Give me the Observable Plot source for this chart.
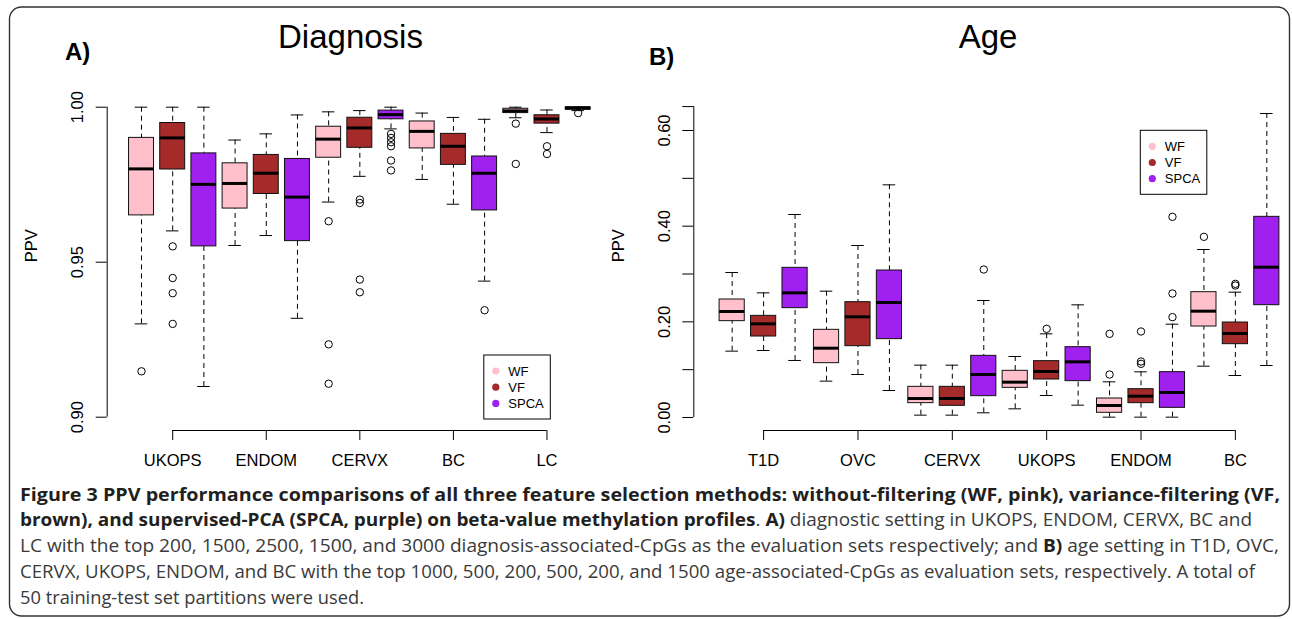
<!DOCTYPE html>
<html><head><meta charset="utf-8">
<script src="https://cdn.jsdelivr.net/npm/d3@7"></script>
<script src="https://cdn.jsdelivr.net/npm/@observablehq/plot@0.6"></script>
<style>
body{margin:0;background:#fff;overflow:hidden}
#wrap{position:relative;width:1292px;height:619px;}
.panel{position:absolute;top:0;}
#overlay{position:absolute;left:0;top:0;pointer-events:none}
</style></head><body>
<div id="wrap"><div id="pa" class="panel" style="left:0;width:600px"></div><div id="pb" class="panel" style="left:600px;width:692px"></div></div>
<script>
// ---------- data ----------
const methods = ["WF", "VF", "SPCA"];
const methodColors = ["pink", "brown", "#A020F0"];

// Panel A: Diagnosis (boxes ordered category x method)
const diagCategories = ["UKOPS", "ENDOM", "CERVX", "BC", "LC"];
const diagTicks = [2, 5, 8, 11, 14];
const diagWhiskerHigh = [1.000, 1.000, 1.000, 0.9894, 0.9914, 0.9975, 0.9985, 0.9989, 1.000, 0.9981, 0.9967, 0.9961, 1.000, 0.9991, 1.000];
const diagQ3 =          [0.9901, 0.9949, 0.9851, 0.9819, 0.9846, 0.9833, 0.9937, 0.9966, 0.9989, 0.9954, 0.9914, 0.9841, 0.9995, 0.9974, 1.000];
const diagMedian =      [0.9801, 0.9901, 0.9751, 0.9754, 0.9787, 0.9710, 0.9897, 0.9933, 0.9976, 0.9922, 0.9874, 0.9787, 0.9988, 0.9962, 0.9997];
const diagQ1 =          [0.9651, 0.9799, 0.9551, 0.9673, 0.9720, 0.9568, 0.9837, 0.9869, 0.9961, 0.9867, 0.9814, 0.9667, 0.9981, 0.9947, 0.9992];
const diagWhiskerLow =  [0.9301, 0.9601, 0.9099, 0.9554, 0.9586, 0.9319, 0.9694, 0.9777, 0.9930, 0.9767, 0.9687, 0.9439, 0.9966, 0.9918, 0.9989];
const diagOutlierBox =   [0, 1, 1, 1, 1, 6, 6, 6, 7, 7, 7, 7, 8, 8, 8, 8, 8, 8, 11, 12, 12, 13, 13, 14];
const diagOutlierValue = [0.9148, 0.9551, 0.9449, 0.9400, 0.9301, 0.9632, 0.9235, 0.9108, 0.9702, 0.9691, 0.9444, 0.9403,
                          0.9914, 0.9901, 0.9887, 0.9874, 0.9828, 0.9796, 0.9345, 0.9947, 0.9817, 0.9874, 0.9849, 0.9981];
const diagYTicks = [0.90, 0.95, 1.00];
const diagYTickLabels = ["0.90", "0.95", "1.00"];

// Panel B: Age
const ageCategories = ["T1D", "OVC", "CERVX", "UKOPS", "ENDOM", "BC"];
const ageTicks = [2, 5, 8, 11, 14, 17];
const ageWhiskerHigh = [0.3031, 0.2606, 0.4244, 0.2641, 0.3596, 0.4864, 0.1094, 0.1094, 0.2446, 0.1275, 0.1749, 0.2355, 0.0746, 0.0955, 0.1951, 0.3512, 0.2620, 0.6355];
const ageQ3 =          [0.2467, 0.2125, 0.3129, 0.1833, 0.2411, 0.3073, 0.0641, 0.0641, 0.1289, 0.0976, 0.1178, 0.1470, 0.0397, 0.0592, 0.0948, 0.2620, 0.1986, 0.4195];
const ageMedian =      [0.2216, 0.1958, 0.2606, 0.1449, 0.2105, 0.2404, 0.0397, 0.0397, 0.0899, 0.0739, 0.0962, 0.1164, 0.0251, 0.0446, 0.0523, 0.2223, 0.1756, 0.3143];
const ageQ1 =          [0.2014, 0.1693, 0.2286, 0.1136, 0.1491, 0.1638, 0.0300, 0.0244, 0.0446, 0.0620, 0.0794, 0.0760, 0.0098, 0.0300, 0.0202, 0.1902, 0.1533, 0.2348];
const ageWhiskerLow =  [0.1387, 0.1401, 0.1192, 0.0760, 0.0899, 0.0564, 0.0049, 0.0049, 0.0098, 0.0181, 0.0460, 0.0258, 0.0007, 0.0007, 0.0007, 0.1073, 0.0878, 0.1087];
const ageOutlierBox =   [8, 10, 12, 12, 13, 13, 13, 14, 14, 14, 15, 16, 16];
const ageOutlierValue = [0.3094, 0.1854, 0.1749, 0.0899, 0.1798, 0.1171, 0.1122, 0.4195, 0.2592, 0.2098, 0.3777, 0.2794, 0.2760];
const ageYTicks = [0, 0.1, 0.2, 0.3, 0.4, 0.5, 0.6, 0.65];
const ageYTickLabels = ["0.00", "", "0.20", "", "0.40", "", "0.60", ""];

const panelTitles = ["Diagnosis", "Age"];
const panelLetters = ["A)", "B)"];
const yLabel = "PPV";

const captionLines = [
  [["Figure 3 PPV performance comparisons of all three feature selection methods: without-filtering (WF, pink), variance-filtering (VF,", 1]],
  [["brown), and supervised-PCA (SPCA, purple) on beta-value methylation profiles", 1], [". ", 0], ["A)", 1], [" diagnostic setting in UKOPS, ENDOM, CERVX, BC and", 0]],
  [["LC with the top 200, 1500, 2500, 1500, and 3000 diagnosis-associated-CpGs as the evaluation sets respectively; and ", 0], ["B)", 1], [" age setting in T1D, OVC,", 0]],
  [["CERVX, UKOPS, ENDOM, and BC with the top 1000, 500, 200, 500, 200, and 1500 age-associated-CpGs as evaluation sets, respectively. A total of", 0]],
  [["50 training-test set partitions were used.", 0]]
];

// ---------- drawing ----------
function boxPanel(o) {
  const rows = o.median.map((m, i) => ({pos: i + 1, method: methods[i % 3], low: o.low[i], q1: o.q1[i], med: m, q3: o.q3[i], high: o.high[i]}));
  const outs = o.outBox.map((b, i) => ({pos: b + 1, value: o.outValue[i]}));
  const half = 0.4, staple = 0.2;
  const lab = (ticks, labels) => d => labels[ticks.indexOf(d)];
  return Plot.plot({
    width: o.width, height: 480,
    marginLeft: o.ml, marginRight: 0, marginTop: 80, marginBottom: 50,
    style: {fontFamily: "'Liberation Sans', Arial, sans-serif", fontSize: "16.5px", background: "none", color: "#000", overflow: "visible"},
    x: {type: "linear", domain: o.xDomain},
    y: {type: "linear", domain: o.yDomain},
    color: {domain: methods, range: methodColors},
    marks: [
      Plot.ruleX(rows, {x: "pos", y1: "high", y2: "q3", stroke: "#000", strokeWidth: 1, strokeDasharray: "5,4"}),
      Plot.ruleX(rows, {x: "pos", y1: "low", y2: "q1", stroke: "#000", strokeWidth: 1, strokeDasharray: "5,4"}),
      Plot.ruleY(rows, {y: "high", x1: d => d.pos - staple, x2: d => d.pos + staple, stroke: "#000"}),
      Plot.ruleY(rows, {y: "low", x1: d => d.pos - staple, x2: d => d.pos + staple, stroke: "#000"}),
      Plot.rect(rows, {x1: d => d.pos - half, x2: d => d.pos + half, y1: "q1", y2: "q3", fill: "method", stroke: "#111", strokeWidth: 1}),
      Plot.ruleY(rows, {y: "med", x1: d => d.pos - half, x2: d => d.pos + half, stroke: "#000", strokeWidth: 3}),
      Plot.dot(outs, {x: "pos", y: "value", r: 3.7, stroke: "#000", fill: "none", strokeWidth: 1}),
      Plot.ruleX([o.xDomain[0]], {y1: o.yTicks[0], y2: o.yTicks[o.yTicks.length - 1], stroke: "#000"}),
      Plot.ruleY([o.yDomain[0]], {x1: o.xTicks[0], x2: o.xTicks[o.xTicks.length - 1], stroke: "#000"}),
      Plot.axisY(o.yTicks, {tickSize: 11, tickRotate: -90, tickPadding: 13, tickFormat: lab(o.yTicks, o.yTickLabels), label: null}),
      Plot.axisX(o.xTicks, {tickSize: 10, tickPadding: 14, tickFormat: lab(o.xTicks, o.xLabels), label: null}),
      Plot.text([yLabel], {frameAnchor: "left", dx: -75, dy: 6.7, rotate: -90, lineAnchor: "middle"})
    ]
  });
}

const pxA = 31.19, mlA = 106.7;
document.getElementById("pa").appendChild(boxPanel({
  width: 600, ml: mlA,
  xDomain: [-0.1, -0.1 + (600 - mlA) / pxA],
  yDomain: [1 - 323.3 / 3100, 1 + 26.7 / 3100],
  high: diagWhiskerHigh, q3: diagQ3, median: diagMedian, q1: diagQ1, low: diagWhiskerLow,
  outBox: diagOutlierBox, outValue: diagOutlierValue,
  yTicks: diagYTicks, yTickLabels: diagYTickLabels, xTicks: diagTicks, xLabels: diagCategories
}));
const pxB = 31.45, mlB = 93.3, pyB = 478.33;
document.getElementById("pb").appendChild(boxPanel({
  width: 692, ml: mlB,
  xDomain: [-0.22, -0.22 + (692 - mlB) / pxB],
  yDomain: [-13 / pyB, 337 / pyB],
  high: ageWhiskerHigh, q3: ageQ3, median: ageMedian, q1: ageQ1, low: ageWhiskerLow,
  outBox: ageOutlierBox, outValue: ageOutlierValue,
  yTicks: ageYTicks, yTickLabels: ageYTickLabels, xTicks: ageTicks, xLabels: ageCategories
}));

// overlay: frame, titles, legends, caption
const svg = d3.select("#wrap").append("svg").attr("id", "overlay").attr("width", 1292).attr("height", 619)
  .style("font-family", "'Liberation Sans', Arial, sans-serif");
svg.append("rect").attr("x", 9.5).attr("y", 7).attr("width", 1280).attr("height", 609).attr("rx", 12)
  .attr("fill", "none").attr("stroke", "#333").attr("stroke-width", 1.4);

[[350.5, 48], [988, 48]].forEach(([x, y], i) =>
  svg.append("text").attr("x", x).attr("y", y).attr("text-anchor", "middle").attr("font-size", 33).text(panelTitles[i]));
[[65, 60], [649, 64.5]].forEach(([x, y], i) =>
  svg.append("text").attr("x", x).attr("y", y).attr("font-size", 24).attr("font-weight", "bold").text(panelLetters[i]));

function legend(x, y) {
  const g = svg.append("g").attr("transform", `translate(${x},${y})`);
  g.append("rect").attr("width", 66.5).attr("height", 64).attr("fill", "#fff").attr("stroke", "#000").attr("stroke-width", 1);
  methods.forEach((m, i) => {
    g.append("circle").attr("cx", 12).attr("cy", 16 + i * 16.2).attr("r", 3.6).attr("fill", methodColors[i]);
    g.append("text").attr("x", 24.5).attr("y", 16 + i * 16.2 + 4.7).attr("font-size", 13).text(m);
  });
}
legend(483.8, 355);
legend(1140.3, 130.3);

const capBase = [500.5, 526.3, 552.1, 577.9, 603.7];
const capEnd = [1280, 1252, 1279, 1255, 364];
const capX = 20;
captionLines.forEach((segs, li) => {
  const t = svg.append("text").attr("x", capX).attr("y", capBase[li]).attr("font-family", "'Open Sans', sans-serif")
    .attr("font-size", 18).attr("textLength", capEnd[li] - capX).attr("lengthAdjust", "spacingAndGlyphs")
    .attr("xml:space", "preserve").style("white-space", "pre");
  segs.forEach(([s, b]) => t.append("tspan").attr("font-weight", b ? 700 : 400).attr("fill", b ? "#231f20" : "#3a3a3a").text(s));
});
</script>
</body></html>
